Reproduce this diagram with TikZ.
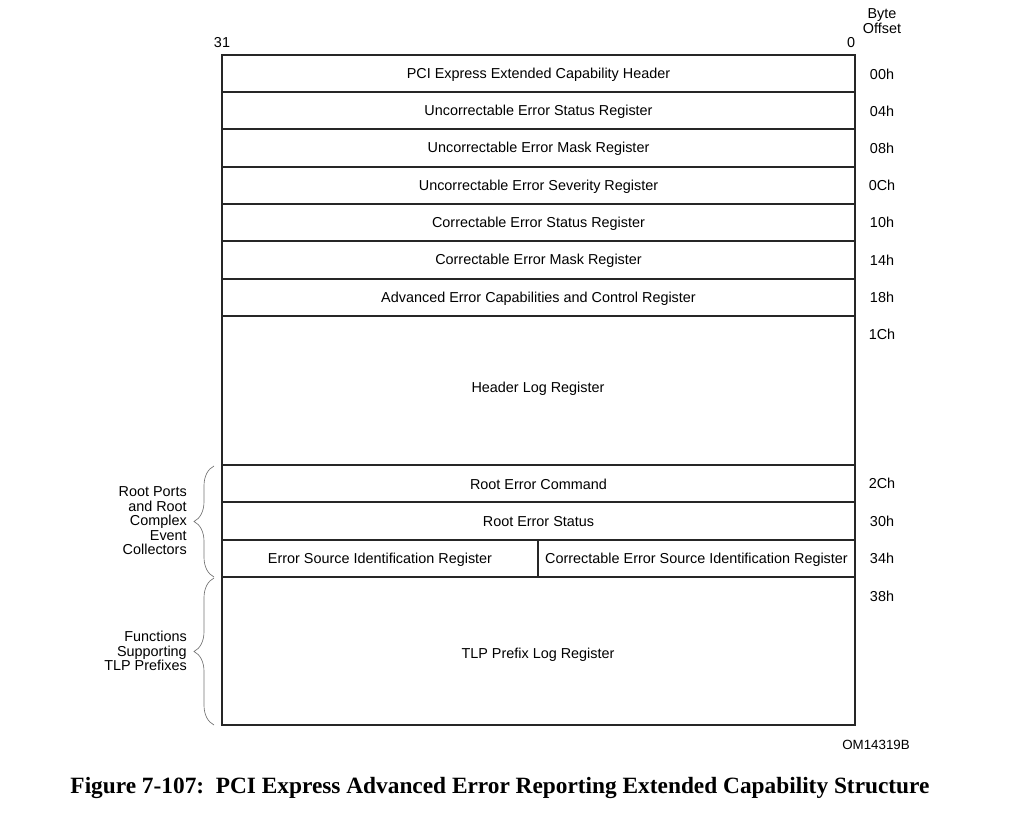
\documentclass[tikz,border=0pt]{standalone}
\usepackage{fontspec}
\setmainfont{Liberation Sans}
\newfontfamily\capfont{Liberation Serif}
\usetikzlibrary{decorations.pathreplacing}
\begin{document}
\begin{tikzpicture}[x=0.75pt,y=-0.75pt,
  reg/.style={draw=black!85,line width=1.1pt},
  txt/.style={font=\fontsize{10.8}{12.5}\selectfont,inner sep=0pt,yshift=-0.75pt},
  offs/.style={font=\fontsize{10.8}{11}\selectfont,inner sep=0pt},
  side/.style={font=\fontsize{10.8}{10.9}\selectfont,align=right,inner sep=0pt,anchor=east},
  brc/.style={draw=black!55,line width=0.5pt,decorate,decoration={brace,amplitude=15pt}}]
\useasboundingbox (0,0) rectangle (1024,816);
\node[offs,align=center] (byte) at (882,21) {Byte\\Offset};
\node[offs] (b31) at (222,43) {31};
\node[offs] (b0) at (851,43) {0};
\path[reg] (222,55) rectangle node[txt] (r00) {PCI Express Extended Capability Header} (855,92);
\path[reg] (222,92) rectangle node[txt] (r04) {Uncorrectable Error Status Register} (855,129);
\path[reg] (222,129) rectangle node[txt] (r08) {Uncorrectable Error Mask Register} (855,167);
\path[reg] (222,167) rectangle node[txt] (r0c) {Uncorrectable Error Severity Register} (855,204);
\path[reg] (222,204) rectangle node[txt] (r10) {Correctable Error Status Register} (855,241);
\path[reg] (222,241) rectangle node[txt] (r14) {Correctable Error Mask Register} (855,279);
\path[reg] (222,279) rectangle node[txt] (r18) {Advanced Error Capabilities and Control Register} (855,316);
\path[reg] (222,316) rectangle (855,465);
\node[txt] (r1c) at (538,388) {Header Log Register};
\path[reg] (222,465) rectangle node[txt] (r2c) {Root Error Command} (855,502);
\path[reg] (222,502) rectangle node[txt] (r30) {Root Error Status} (855,540);
\path[reg] (222,540) rectangle node[txt] (r34a) {Error Source Identification Register} (538,577);
\path[reg] (538,540) rectangle node[txt] (r34b) {Correctable Error Source Identification Register} (855,577);
\path[reg] (222,577) rectangle (855,725);
\node[txt] (r38) at (538,654) {TLP Prefix Log Register};
\node[offs] (o00) at (882,74) {00h};
\node[offs] (o04) at (882,111) {04h};
\node[offs] (o08) at (882,148) {08h};
\node[offs] (o0c) at (882,185) {0Ch};
\node[offs] (o10) at (882,222) {10h};
\node[offs] (o14) at (882,260) {14h};
\node[offs] (o18) at (882,297) {18h};
\node[offs] (o1c) at (882,334) {1Ch};
\node[offs] (o2c) at (882,483) {2Ch};
\node[offs] (o30) at (882,521) {30h};
\node[offs] (o34) at (882,558) {34h};
\node[offs] (o38) at (882,596) {38h};
\coordinate (ba1) at (214,577);
\coordinate (ba2) at (214,466);
\coordinate (bb1) at (214,725);
\coordinate (bb2) at (214,578);
\draw[brc] (ba1) -- (ba2);
\draw[brc] (bb1) -- (bb2);
\node[side] (lroot) at (187,521) {Root Ports\\and Root\\Complex\\Event\\Collectors};
\node[side] (ltlp) at (187,651) {Functions\\Supporting\\TLP Prefixes};
\node[font=\fontsize{10}{11}\selectfont,inner sep=0pt] (om) at (876,745) {OM14319B};
\node[font=\capfont\bfseries\fontsize{17.5}{19}\selectfont,inner sep=0pt] (cap) at (500,788) {Figure 7-107:\ \ PCI Express Advanced Error Reporting Extended Capability Structure};
\end{tikzpicture}
\end{document}
